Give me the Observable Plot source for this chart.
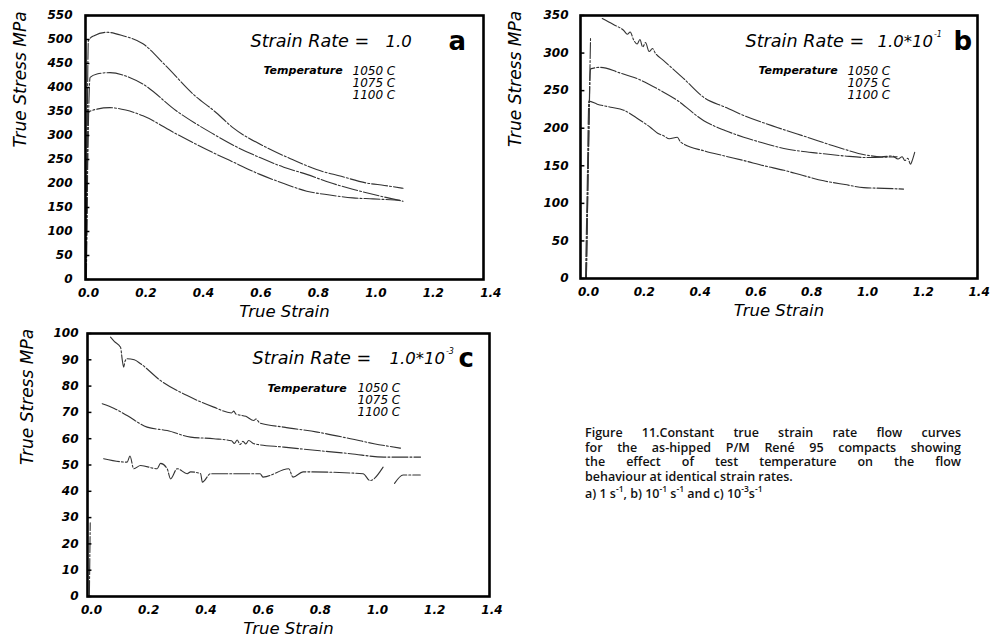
<!DOCTYPE html>
<html><head><meta charset="utf-8">
<script src="https://cdn.jsdelivr.net/npm/d3@7"></script>
<script src="https://cdn.jsdelivr.net/npm/@observablehq/plot@0.6"></script>
<style>
body{margin:0;background:#fff;}
#root{position:relative;width:991px;height:642px;overflow:hidden;background:#fff;}
.panel{position:absolute;}
.panel svg{display:block;overflow:visible;}
#caption{position:absolute;left:585px;top:426px;width:376px;font-family:"Open Sans",sans-serif;font-size:12.5px;line-height:14.5px;color:#111;font-weight:600;}
#caption .j{text-align:justify;text-align-last:justify;}
#caption .last{margin-top:3px;}
#caption .sup{display:inline-block;vertical-align:top;margin-top:-3px;font-size:8.5px;line-height:9px;}
</style>
</head><body>
<div id="root">
  <div class="panel" id="pa" style="left:0;top:0"></div>
  <div class="panel" id="pb" style="left:495px;top:0"></div>
  <div class="panel" id="pc" style="left:0;top:320px"></div>
  <div id="caption">
    <div class="j">Figure 11.Constant true strain rate flow curves</div>
    <div class="j">for the as-hipped P/M René 95 compacts showing</div>
    <div class="j">the effect of test temperature on the flow</div>
    <div>behaviour at identical strain rates.</div>
    <div class="last">a) 1 s<span class="sup">-1</span>, b) 10<span class="sup">-1</span> s<span class="sup">-1</span> and c) 10<span class="sup">-3</span>s<span class="sup">-1</span></div>
  </div>
</div>
<script>
// ---------- data ----------
const temperatures = ["1050 C", "1075 C", "1100 C"];
const strainRateBase = ["1.0", "1.0*10", "1.0*10"];
const strainRateExp = ["", "-1", "-3"];
const panelLetters = ["a", "b", "c"];
const xTicks = [0, 0.2, 0.4, 0.6, 0.8, 1.0, 1.2, 1.4];
const yTicksA = [0, 50, 100, 150, 200, 250, 300, 350, 400, 450, 500, 550];
const yTicksB = [0, 50, 100, 150, 200, 250, 300, 350];
const yTicksC = [0, 10, 20, 30, 40, 50, 60, 70, 80, 90, 100];

// panel a : strain rate 1.0
const a1050Strain = [0.003, 0.006, 0.01, 0.03, 0.074, 0.13, 0.2, 0.28, 0.375, 0.45, 0.514, 0.63, 0.72, 0.804, 0.89, 0.978, 1.04, 1.105];
const a1050Stress = [0, 300, 498, 508, 515, 508, 491, 445, 386, 350, 316, 275, 250, 229, 215, 201, 196, 190];
const a1075Strain = [0.003, 0.008, 0.016, 0.04, 0.085, 0.14, 0.2, 0.317, 0.445, 0.52, 0.607, 0.69, 0.77, 0.85, 0.93, 1.024, 1.105];
const a1075Stress = [0, 250, 421, 428, 431, 424, 407, 351, 303, 278, 254, 234, 219, 202, 188, 174, 163];
const a1100Strain = [0.002, 0.006, 0.01, 0.04, 0.085, 0.14, 0.2, 0.317, 0.445, 0.52, 0.607, 0.69, 0.77, 0.85, 0.93, 1.0, 1.094];
const a1100Stress = [0, 200, 348, 355, 358, 353, 341, 303, 264, 243, 219, 200, 184, 176, 170, 168, 165];

// panel b : strain rate 1.0*10^-1
const b1050Strain = [0.003, 0.012, 0.018, NaN, 0.06, 0.1, 0.137, 0.15, 0.16, 0.173, 0.185, 0.195, 0.205, 0.215, 0.228, 0.24, 0.25, 0.28, 0.352, 0.424, 0.5, 0.567, 0.687, 0.795, 0.902, 1.01, 1.06, 1.1, 1.12, 1.135, 1.145, 1.155, 1.165, 1.17, 1.18];
const b1050Stress = [0, 200, 321, NaN, 346, 338, 330, 325, 328, 317, 312, 318, 308, 314, 302, 306, 300, 290, 266, 241, 228, 217, 201, 188, 175, 164, 162, 163, 159, 162, 157, 160, 152, 156, 168];
const b1075Strain = [0.003, 0.01, 0.018, 0.054, 0.12, 0.185, 0.26, 0.329, 0.424, 0.5, 0.567, 0.64, 0.711, 0.78, 0.854, 0.93, 1.01, 1.117];
const b1075Stress = [0, 150, 279, 281, 274, 266, 252, 237, 210, 197, 188, 180, 173, 169, 166, 163, 161, 162];
const b1100Strain = [0.0, 0.006, 0.012, 0.042, 0.09, 0.137, 0.19, 0.233, 0.26, 0.28, 0.3, 0.329, 0.34, 0.352, 0.424, 0.5, 0.567, 0.64, 0.711, 0.78, 0.854, 0.93, 0.997, 1.07, 1.14];
const b1100Stress = [0, 120, 236, 232, 228, 224, 212, 201, 193, 190, 186, 188, 182, 179, 170, 163, 157, 150, 144, 137, 130, 125, 121, 120, 119];

// panel c : strain rate 1.0*10^-3
const c1050Strain = [0.077, 0.09, 0.112, 0.118, 0.123, 0.128, 0.135, 0.16, 0.182, 0.252, 0.345, 0.438, 0.5, 0.508, 0.515, 0.55, 0.578, 0.585, 0.6, 0.683, 0.8, 0.916, 0.998, 1.091];
const c1050Stress = [98.6, 97, 94.8, 90, 87.2, 89.5, 90.4, 90, 88.5, 82.1, 76.4, 72.0, 69.8, 70.5, 69.4, 68.5, 66.9, 67.5, 65.9, 64.4, 62.5, 60.0, 58.1, 56.4];
const c1075Strain = [0.048, 0.09, 0.135, 0.205, 0.275, 0.357, 0.438, 0.5, 0.51, 0.52, 0.53, 0.54, 0.55, 0.56, 0.578, 0.683, 0.8, 0.916, 1.033, 1.161];
const c1075Stress = [73.3, 71.5, 68.8, 64.4, 63.1, 60.6, 60.0, 59.2, 58.2, 59.5, 57.8, 59.0, 58.0, 59.3, 58.1, 56.8, 55.5, 54.3, 53.0, 53.0];
const c1100Strain = [0.003, 0.006, NaN, 0.053, 0.135, 0.145, 0.158, 0.182, 0.24, 0.252, 0.275, 0.287, 0.31, 0.345, 0.357, 0.392, 0.398, 0.427, 0.6, 0.61, 0.7, 0.715, 0.75, 0.96, 0.984, 1.03, NaN, 1.07, 1.1, 1.16];
const c1100Stress = [0, 28, NaN, 52.4, 51.1, 53.4, 48.6, 49.8, 48.6, 50.6, 48.6, 44.7, 48.6, 46.7, 47.4, 46.7, 43.5, 46.7, 46.7, 45.4, 48.6, 45.4, 47.4, 46.7, 44.1, 49.2, NaN, 43.0, 46.2, 46.2];

// ---------- drawing ----------
const FONT = "DejaVu Sans";
const RATE_SIZE = 16.5;
const measureCtx = document.createElement("canvas").getContext("2d");
function textWidth(str, font) { measureCtx.font = font; return measureCtx.measureText(str).width; }

function rows(series) {
  return series.flatMap((s, i) => s[0].map((x, j) => ({temp: temperatures[i], strain: x, stress: s[1][j]})));
}

function panel(cfg) {
  const data = rows(cfg.series);
  const tickLen = (cfg.xDomain[1] - cfg.xDomain[0]) * 0.011;
  const baseW = textWidth(strainRateBase[cfg.idx], `italic ${RATE_SIZE}px "${FONT}"`);
  return Plot.plot({
    width: cfg.width, height: cfg.height,
    marginLeft: cfg.ml, marginRight: cfg.mr, marginTop: cfg.mt, marginBottom: cfg.mb,
    style: {background: "transparent", fontFamily: FONT, color: "black", overflow: "visible"},
    x: {domain: cfg.xDomain, axis: null},
    y: {domain: cfg.yDomain, axis: null},
    marks: [
      Plot.line(data, {x: "strain", y: "stress", z: "temp", stroke: "#333", strokeWidth: 1.1, strokeDasharray: "16,2,2,2", curve: "monotone-x"}),
      Plot.ruleY(cfg.yTicks, {y: d => d, x1: cfg.xDomain[0], x2: cfg.xDomain[0] + tickLen, stroke: "black", strokeWidth: 1.5}),
      Plot.frame({stroke: "black", strokeWidth: 2.6}),
      Plot.text(cfg.yTicks, {y: d => d, text: d => String(d), frameAnchor: "left", dx: -cfg.ylabOff, textAnchor: "end", fontSize: 12, fontWeight: "bold", fontStyle: "italic", fontFamily: FONT}),
      Plot.text(xTicks, {x: d => d, text: d => d.toFixed(1), frameAnchor: "bottom", dy: 17, dx: 3, fontSize: 12, fontWeight: "bold", fontStyle: "italic", fontFamily: FONT}),
      Plot.text(["True Strain"], {text: d => d, frameAnchor: "bottom", dy: 37, fontSize: 16.5, fontStyle: "italic", fontFamily: FONT}),
      Plot.text(["True Stress MPa"], {text: d => d, frameAnchor: "left", dx: -cfg.ytitleOff, rotate: -90, fontSize: 17, fontStyle: "italic", fontFamily: FONT}),
      Plot.text(["Strain Rate ="], {text: d => d, frameAnchor: "top-left", dx: cfg.srDx, dy: cfg.srDy, textAnchor: "start", lineAnchor: "middle", fontSize: 17.6, fontStyle: "italic", fontFamily: FONT}),
      Plot.text([strainRateBase[cfg.idx]], {text: d => d, frameAnchor: "top-left", dx: cfg.valDx, dy: cfg.srDy, textAnchor: "start", lineAnchor: "middle", fontSize: RATE_SIZE, fontStyle: "italic", fontFamily: FONT}),
      Plot.text([strainRateExp[cfg.idx]], {text: d => d, frameAnchor: "top-left", dx: cfg.valDx + baseW + 1, dy: cfg.srDy - 7, textAnchor: "start", lineAnchor: "middle", fontSize: 8, fontStyle: "italic", fontFamily: FONT}),
      Plot.text([panelLetters[cfg.idx]], {text: d => d, frameAnchor: "top-left", dx: cfg.letDx, dy: cfg.srDy, textAnchor: "start", lineAnchor: "middle", fontSize: 26, fontWeight: "bold", fontFamily: FONT}),
      Plot.text(["Temperature"], {text: d => d, frameAnchor: "top-left", dx: cfg.tDx, dy: cfg.tDy, textAnchor: "start", lineAnchor: "middle", fontSize: 11, fontWeight: "bold", fontStyle: "italic", fontFamily: FONT}),
      Plot.text([temperatures.join("\n")], {text: d => d, frameAnchor: "top-left", dx: cfg.tvDx, dy: cfg.tvDy, textAnchor: "start", lineAnchor: "top", lineHeight: 1.0, fontSize: 12, fontStyle: "italic", fontFamily: FONT})
    ]
  });
}

document.getElementById("pa").appendChild(panel({
  idx: 0, width: 495, height: 320, ml: 85, mr: 12, mt: 15, mb: 41,
  xDomain: [0, 1.385], yDomain: [0, 550], yTicks: yTicksA, ylabOff: 13, ytitleOff: 65,
  series: [[a1050Strain, a1050Stress], [a1075Strain, a1075Stress], [a1100Strain, a1100Stress]],
  srDx: 165, srDy: 26, valDx: 300, letDx: 363, tDx: 178, tDy: 54.5, tvDx: 267, tvDy: 50.5
}));
document.getElementById("pb").appendChild(panel({
  idx: 1, width: 496, height: 320, ml: 85, mr: 14, mt: 15, mb: 42,
  xDomain: [-0.018, 1.405], yDomain: [0, 350], yTicks: yTicksB, ylabOff: 12, ytitleOff: 65,
  series: [[b1050Strain, b1050Stress], [b1075Strain, b1075Stress], [b1100Strain, b1100Stress]],
  srDx: 165, srDy: 26, valDx: 297, letDx: 373, tDx: 178, tDy: 54.5, tvDx: 267, tvDy: 50.5
}));
document.getElementById("pc").appendChild(panel({
  idx: 2, width: 495, height: 322, ml: 87, mr: 6, mt: 13, mb: 46,
  xDomain: [-0.0035, 1.402], yDomain: [0, 100], yTicks: yTicksC, ylabOff: 9, ytitleOff: 60,
  series: [[c1050Strain, c1050Stress], [c1075Strain, c1075Stress], [c1100Strain, c1100Stress]],
  srDx: 165, srDy: 25, valDx: 302, letDx: 371, tDx: 180, tDy: 54.5, tvDx: 270, tvDy: 49.5
}));
</script>
</body></html>
